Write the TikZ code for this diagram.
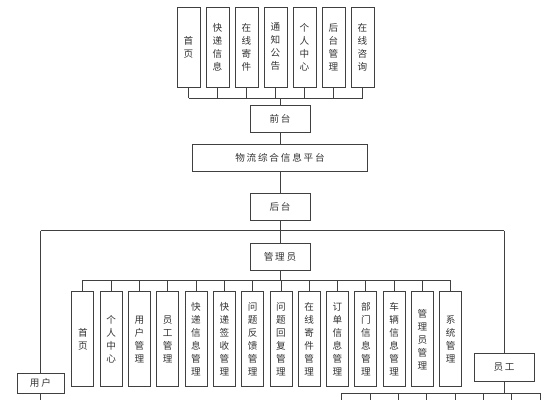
\documentclass[tikz,border=0pt]{standalone}
\usepackage{fontspec}
\newfontfamily\cjk{Noto Sans CJK SC}
\newcommand\gapp{\hspace{1.8pt}}
\tikzset{
  ln/.style={draw=black!75, line width=0.8pt},
  vbox/.style={draw=black!75, line width=0.8pt, minimum width=22pt, align=center, inner sep=0pt, text=black!80,
    font=\cjk\fontsize{9.6}{13}\selectfont},
  topbox/.style={vbox, minimum width=23pt, minimum height=80pt},
  admbox/.style={vbox, minimum width=22pt, minimum height=95pt},
  hbox/.style={draw=black!75, line width=0.8pt, inner sep=0pt, text=black!80, font=\cjk\fontsize{9.6}{11}\selectfont}
}
\begin{document}
\begin{tikzpicture}[x=1pt,y=-1pt]
\useasboundingbox (0,0) rectangle (560,400);
% top row
\foreach \t [count=\i from 0] in {首\\页,快\\递\\信\\息,在\\线\\寄\\件,通\\知\\公\\告,个\\人\\中\\心,后\\台\\管\\理,在\\线\\咨\\询}{
  \node[topbox] (t\i) at (188.5+29*\i,47) {\t};
}
\node[hbox, minimum width=60pt, minimum height=27pt] (qt) at (280,118.5) {前\gapp 台};
\node[hbox, minimum width=175pt, minimum height=27pt] (pt) at (280,157.5) {物\gapp 流\gapp 综\gapp 合\gapp 信\gapp 息\gapp 平\gapp 台};
\node[hbox, minimum width=60pt, minimum height=27pt] (ht) at (280,206.5) {后\gapp 台};
\node[hbox, minimum width=60pt, minimum height=27pt] (gl) at (280,256.5) {管\gapp 理\gapp 员};
\node[hbox, minimum width=47pt, minimum height=20pt] (yh) at (40.5,383) {用\gapp 户};
\node[hbox, minimum width=60pt, minimum height=28pt] (yg) at (504,367) {员\gapp 工};
% admin row
\foreach \t [count=\i from 0] in {首\\页,个\\人\\中\\心,用\\户\\管\\理,员\\工\\管\\理,快\\递\\信\\息\\管\\理,快\\递\\签\\收\\管\\理,问\\题\\反\\馈\\管\\理,问\\题\\回\\复\\管\\理,在\\线\\寄\\件\\管\\理,订\\单\\信\\息\\管\\理,部\\门\\信\\息\\管\\理,车\\辆\\信\\息\\管\\理,管\\理\\员\\管\\理,系\\统\\管\\理}{
  \node[admbox] (a\i) at (82.8+28.3*\i,339.2) {\t};
}
% coordinates
\coordinate (tb) at (280,98);
\coordinate (tbl) at (188.5,98);
\coordinate (tbr) at (362.5,98);
\coordinate (hl) at (40.5,230.7);
\coordinate (hr) at (504,230.7);
\coordinate (ab) at (280,280);
\coordinate (abl) at (82.8,280);
\coordinate (abr) at (450.7,280);
\coordinate (yhe) at (40.5,400);
\coordinate (eb) at (504,393.3);
\coordinate (ebl) at (341.7,393.3);
\coordinate (ebr) at (540,393.3);
% top connectors
\foreach \i in {0,...,6}{ \draw[ln] (t\i.south) -- (t\i.south |- tb); }
\draw[ln] (tbl) -- (tbr);
\draw[ln] (tb) -- (qt.north);
\draw[ln] (qt) -- (pt);
\draw[ln] (pt) -- (ht);
\draw[ln] (ht) -- (gl);
\draw[ln] (hl) -- (hr);
\draw[ln] (hl) -- (yh.north);
\draw[ln] (yh.south) -- (yhe);
\draw[ln] (hr) -- (yg.north);
% admin
\draw[ln] (gl.south) -- (ab);
\draw[ln] (abl) -- (abr);
\foreach \i in {0,...,13}{ \draw[ln] (a\i.north |- ab) -- (a\i.north); }
% staff
\draw[ln] (yg.south) -- (eb);
\draw[ln] (ebl) -- (ebr);
\foreach \k in {0,...,7}{ \draw[ln] (341.7+28.33*\k,393.3) -- (341.7+28.33*\k,400); }
\end{tikzpicture}
\end{document}
